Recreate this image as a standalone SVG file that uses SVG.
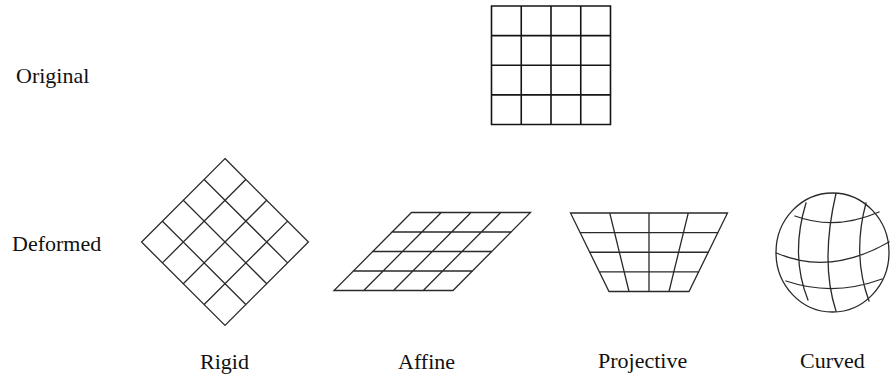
<svg xmlns="http://www.w3.org/2000/svg" width="890" height="376" viewBox="0 0 890 376">
<style>
.lbl{font-family:"Liberation Serif","Times New Roman",serif;font-size:22px;fill:#111}
.g{fill:none;stroke:#2a2a2a;stroke-width:1.3;stroke-linecap:square}
.o{fill:none;stroke:#151515;stroke-width:1.6}
</style>
<rect width="890" height="376" fill="#fff"/>
<g id="label-original"><text class="lbl" x="16" y="83">Original</text></g>
<g id="label-deformed"><text class="lbl" x="12" y="251">Deformed</text></g>
<g id="original">
<path class="o" d="M491.5,6H610.5V124.5H491.5Z M521.25,6V124.5 M551,6V124.5 M580.75,6V124.5 M491.5,35.6H610.5 M491.5,65.25H610.5 M491.5,94.9H610.5"/>
</g>
<g id="rigid">
<g transform="translate(225,242) rotate(45)">
<path class="g" d="M-59,-59H59V59H-59Z M-29.5,-59V59 M0,-59V59 M29.5,-59V59 M-59,-29.5H59 M-59,0H59 M-59,29.5H59"/>
</g>
<text class="lbl" x="200" y="369">Rigid</text>
</g>
<g id="affine">
<path class="g" d="M411.5,212.5H530.5L453,290.5H334Z M441.25,212.5L363.75,290.5 M471,212.5L393.5,290.5 M500.75,212.5L423.25,290.5 M392.1,232H511.1 M372.75,251.5H491.75 M353.4,271H472.4"/>
<text class="lbl" x="398" y="369">Affine</text>
</g>
<g id="projective">
<path class="g" d="M570.5,213H727.5L689,291.5H609Z M609.75,213L629,291.5 M649,213V291.5 M688.25,213L669,291.5 M580.1,232.6H717.9 M589.75,252.25H708.25 M599.4,271.9H698.6"/>
<text class="lbl" x="598" y="368">Projective</text>
</g>
<g id="curved">
<ellipse class="g" cx="832.5" cy="252.5" rx="56.5" ry="59.5"/>
<path class="g" d="M795,216 Q835,231 879,212 M776.5,253 Q830,276 889,242 M786,281 Q833,297 882,279 M806,203 Q790,255 808,300 M836,193.5 Q820,262 836,311 M866,203 Q852,255 869,301"/>
<text class="lbl" x="800" y="368">Curved</text>
</g>
</svg>
